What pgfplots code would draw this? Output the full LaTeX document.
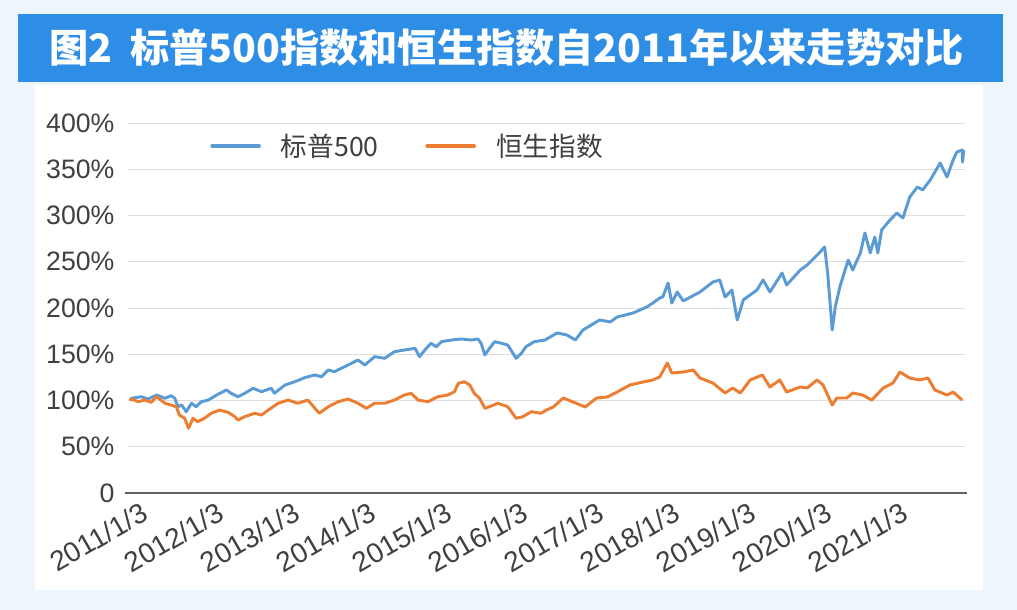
\documentclass[border=0pt]{standalone}
\usepackage{pgfplots}
\pgfplotsset{compat=1.18}
\usepackage{fontspec}
\setmainfont{Liberation Sans}
\newfontfamily\cjk{Noto Sans CJK SC}

\definecolor{bgblue}{HTML}{EEF6FD}
\definecolor{banner}{HTML}{2E8EE6}
\definecolor{spblue}{HTML}{5B9BD5}
\definecolor{hsorange}{HTML}{ED7D31}
\definecolor{txt}{HTML}{404040}

\begin{document}
\begin{tikzpicture}
% page background, panel and title banner (1px = 0.75pt)
\fill[bgblue] (0pt,0pt) rectangle (762.75pt,457.5pt);
\fill[white] (26.25pt,15pt) rectangle (737.25pt,393.75pt);
\fill[banner] (13.5pt,396pt) rectangle (752.25pt,447pt);
\node[text=white, font=\cjk\bfseries\fontsize{29.4pt}{34pt}\selectfont]
  at (380pt,421.5pt) {图2\hspace{0.45em}标普500指数和恒生指数自2011年以来走势对比};

\begin{axis}[
    at={(96pt,87.75pt)}, anchor=south west,
    scale only axis,
    width=627.75pt, height=277.5pt,
    xmin=2010.974, xmax=2021.987,
    ymin=0, ymax=400,
    axis line style={draw=none},
    major tick length=0pt,
    ytick={0,50,...,400},
    yticklabels={0,50\%,100\%,150\%,200\%,250\%,300\%,350\%,400\%},
    xtick={2011,...,2021},
    xticklabels={2011/1/3,2012/1/3,2013/1/3,2014/1/3,2015/1/3,2016/1/3,2017/1/3,2018/1/3,2019/1/3,2020/1/3,2021/1/3},
    ymajorgrids,
    grid style={black!13, line width=0.7pt},
    tick label style={font=\fontsize{20pt}{24pt}\selectfont, text=txt},
    /pgf/number format/assume math mode=true,
    yticklabel style={anchor=east, inner sep=0pt, xshift=-10pt},
    xticklabel style={font=\fontsize{21pt}{24pt}\selectfont, rotate=30, anchor=north east, inner sep=0pt, xshift=3.5pt, yshift=-9pt},
    legend columns=2,
    legend style={draw=none, fill=none, at={(0.098,0.938)}, anchor=west,
        inner sep=0pt,
        font=\cjk\fontsize{20pt}{24pt}\selectfont, text=txt,
        nodes={inner sep=0pt},
        /tikz/every odd column/.append style={column sep=15pt},
        /tikz/every even column/.append style={column sep=35pt}},
    legend image code/.code={\draw[#1, line width=3pt, line cap=round] (0pt,0pt) -- (35pt,0pt);},
    clip=false,
]
\draw[black!62, line width=1.5pt] (rel axis cs:-0.004,0) -- (rel axis cs:1.002,0);

% S&P 500, 2011/1/3 = 100
\addplot[spblue, line width=2.2pt, line join=round] coordinates {
(2011.00,100.0) (2011.02,102.4) (2011.15,104.1) (2011.24,101.6) (2011.35,105.9)
(2011.46,102.4) (2011.54,105.2) (2011.59,102.4) (2011.63,93.3) (2011.68,95.1)
(2011.74,87.9) (2011.81,97.0) (2011.87,93.3) (2011.94,98.7) (2012.03,100.5)
(2012.14,105.9) (2012.27,111.4) (2012.33,107.8) (2012.42,104.1) (2012.51,107.8)
(2012.62,113.2) (2012.73,109.5) (2012.86,113.2) (2012.90,107.8) (2013.04,116.8)
(2013.17,120.3) (2013.30,124.7) (2013.43,127.6) (2013.52,125.7) (2013.61,133.0)
(2013.69,131.1) (2013.78,134.8) (2013.87,138.4) (2014.00,143.8) (2014.09,138.4)
(2014.22,147.4) (2014.35,145.6) (2014.48,152.8) (2014.61,154.6) (2014.75,156.4)
(2014.81,147.4) (2014.88,154.6) (2014.96,161.8) (2015.03,158.2) (2015.10,163.6)
(2015.23,165.4) (2015.36,166.5) (2015.49,165.4) (2015.58,166.5) (2015.62,161.8)
(2015.67,149.2) (2015.73,156.4) (2015.80,163.6) (2015.89,161.8) (2015.97,160.0)
(2016.04,151.0) (2016.08,145.6) (2016.15,151.0) (2016.21,158.2) (2016.32,163.6)
(2016.46,165.4) (2016.62,173.0) (2016.75,170.8) (2016.86,165.4) (2016.96,176.2)
(2017.18,187.0) (2017.32,184.9) (2017.41,190.3) (2017.62,194.6) (2017.80,201.1)
(2017.88,205.4) (2017.97,210.8) (2018.01,211.9) (2018.08,227.0) (2018.13,205.4)
(2018.20,217.3) (2018.28,207.6) (2018.50,217.3) (2018.67,228.1) (2018.76,230.3)
(2018.83,211.9) (2018.92,219.5) (2018.99,187.0) (2019.07,208.7) (2019.25,219.5)
(2019.33,230.3) (2019.42,217.3) (2019.58,237.8) (2019.64,224.9) (2019.82,241.1)
(2019.91,246.5) (2020.08,260.5) (2020.14,266.0) (2020.18,237.8) (2020.24,176.2)
(2020.28,201.1) (2020.34,222.7) (2020.45,251.9) (2020.51,241.1) (2020.61,259.5)
(2020.67,281.1) (2020.74,259.5) (2020.80,276.8) (2020.84,259.5) (2020.89,284.3)
(2021.00,295.1) (2021.09,302.7) (2021.17,297.3) (2021.26,320.0) (2021.36,330.8)
(2021.43,327.6) (2021.53,338.4) (2021.66,356.8) (2021.75,341.6) (2021.83,360.0)
(2021.88,368.6) (2021.95,370.8) (2021.955,357.8) (2021.97,370.8)
};
\addlegendentry{标普500}

% Hang Seng, 2011/1/3 = 100
\addplot[hsorange, line width=2.2pt, line join=round] coordinates {
(2011.00,100.0) (2011.02,101.6) (2011.11,98.7) (2011.19,100.5) (2011.28,98.0)
(2011.35,104.1) (2011.46,97.0) (2011.54,95.1) (2011.61,93.3) (2011.65,84.3)
(2011.72,80.8) (2011.77,70.0) (2011.83,80.8) (2011.89,77.1) (2011.98,80.8)
(2012.07,86.2) (2012.18,89.7) (2012.29,87.2) (2012.38,82.5) (2012.42,78.9)
(2012.51,82.5) (2012.64,86.2) (2012.73,84.3) (2012.82,89.7) (2012.95,97.0)
(2013.08,100.5) (2013.21,97.0) (2013.34,100.5) (2013.49,86.2) (2013.61,93.3)
(2013.74,98.7) (2013.87,101.6) (2014.00,97.0) (2014.11,91.6) (2014.22,97.0)
(2014.35,97.0) (2014.48,100.5) (2014.61,105.9) (2014.70,107.8) (2014.79,100.5)
(2014.92,98.7) (2015.05,104.1) (2015.18,105.9) (2015.27,109.5) (2015.32,118.6)
(2015.40,120.3) (2015.47,116.8) (2015.53,107.8) (2015.60,102.4) (2015.67,91.6)
(2015.73,93.3) (2015.84,97.0) (2015.97,93.3) (2016.08,80.8) (2016.17,82.5)
(2016.28,87.9) (2016.41,86.2) (2016.48,89.7) (2016.57,93.0) (2016.70,102.7)
(2016.83,98.4) (2016.99,93.0) (2017.14,102.7) (2017.28,103.8) (2017.41,109.2)
(2017.58,116.8) (2017.75,120.0) (2017.88,122.2) (2017.97,125.4) (2018.07,140.5)
(2018.13,129.7) (2018.28,130.8) (2018.41,133.0) (2018.50,124.3) (2018.67,118.9)
(2018.83,108.1) (2018.93,113.5) (2019.03,108.1) (2019.16,122.2) (2019.32,127.6)
(2019.42,114.6) (2019.55,122.2) (2019.64,109.2) (2019.82,114.6) (2019.91,113.5)
(2020.04,122.2) (2020.12,116.8) (2020.24,95.1) (2020.30,102.7) (2020.43,102.7)
(2020.51,108.1) (2020.64,105.9) (2020.76,100.5) (2020.91,113.5) (2021.04,118.9)
(2021.13,130.8) (2021.26,124.3) (2021.39,122.2) (2021.50,124.3) (2021.59,111.4)
(2021.75,105.9) (2021.83,109.2) (2021.95,100.5)
};
\addlegendentry{恒生指数}
\end{axis}
\end{tikzpicture}
\end{document}
